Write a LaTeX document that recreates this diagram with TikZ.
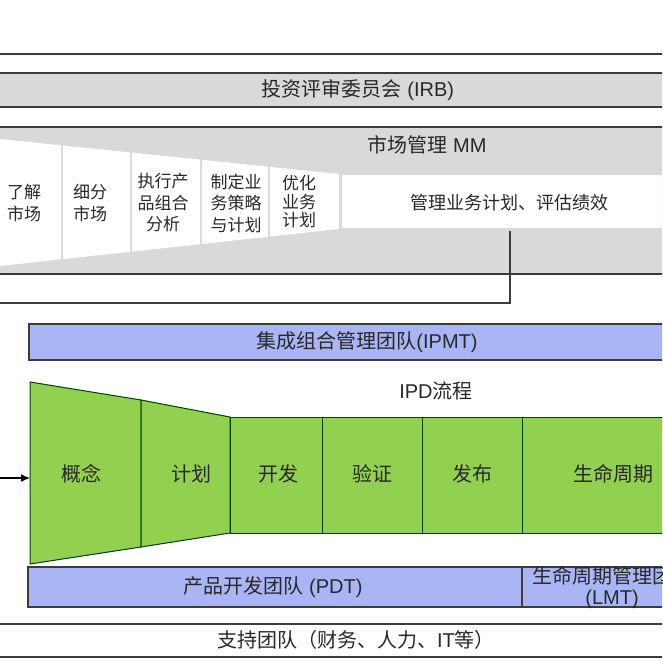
\documentclass[tikz,border=0pt]{standalone}
\usepackage{fontspec}
\setmainfont{Liberation Sans}
\newfontfamily\cjk{Noto Sans CJK SC}
\usetikzlibrary{arrows.meta}
\definecolor{bandgray}{RGB}{217,217,217}
\definecolor{ipdgreen}{RGB}{146,208,80}
\definecolor{teamblue}{RGB}{170,181,245}
\definecolor{edgec}{RGB}{60,60,60}
\definecolor{txt}{RGB}{40,40,40}
\begin{document}
\begin{tikzpicture}[x=1pt,y=-1pt,
  bandline/.style={draw=edgec,line width=1.5pt},
  whiteseg/.style={fill=white},
  greenbox/.style={fill=ipdgreen,draw=black!75!green,line width=1pt},
  bluebox/.style={fill=teamblue,draw=edgec,line width=1.3pt},
  big/.style={font=\fontsize{20}{21}\selectfont,text=txt,inner sep=0pt,align=center},
  mid/.style={font=\fontsize{18}{22}\selectfont,text=txt,inner sep=0pt},
  small/.style={font=\fontsize{17}{21.5}\cjk,text=txt,inner sep=0pt,align=center},
  tight/.style={font=\fontsize{17}{18.5}\cjk,text=txt,inner sep=0pt,align=center}
]
\useasboundingbox (0,0) rectangle (662,662);
\clip (0,0) rectangle (662,662);

% top border line
\coordinate (topl) at (-5,54);
\coordinate (topr) at (670,54);
\draw[bandline] (topl) -- (topr);

% IRB band
\fill[bandgray] (-5,73) rectangle (670,107);
\draw[bandline] (-5,73) -- (670,73);
\draw[bandline] (-5,107) -- (670,107);
\node[big] (irb) at (358,90) {{\cjk 投资评审委员会}\ (IRB)};

% MM band
\fill[bandgray] (-5,127) rectangle (670,274);
\draw[bandline] (-5,127) -- (670,127);
\draw[bandline] (-5,274) -- (670,274);
\node[big] (mm) at (427,145) {{\cjk 市场管理}\ MM};

% funnel segments
\fill[whiteseg] (-10,138.0) -- (61,145.3) -- (61,259.3) -- (-10,267.1) -- cycle;
\fill[whiteseg] (63,145.5) -- (130,152.4) -- (130,251.8) -- (63,259.1) -- cycle;
\fill[whiteseg] (132,152.6) -- (200,159.6) -- (200,244.2) -- (132,251.6) -- cycle;
\fill[whiteseg] (202,159.8) -- (268,166.7) -- (268,236.8) -- (202,244.0) -- cycle;
\fill[whiteseg] (270,166.9) -- (339,174.0) -- (339,229.0) -- (270,236.5) -- cycle;
\fill[whiteseg] (342,175) rectangle (670,228);

\node[small] (s1) at (24,203) {了解\\市场};
\node[small] (s2) at (90,203) {细分\\市场};
\node[small] (s3) at (163,203) {执行产\\品组合\\分析};
\node[small] (s4) at (236,203) {制定业\\务策略\\与计划};
\node[tight] (s5) at (299,202) {优化\\业务\\计划};
\node[mid] (s6) at (509,203) {\cjk 管理业务计划、评估绩效};

% bracket line
\coordinate (bk1) at (-5,303);
\coordinate (bk2) at (510,303);
\coordinate (bk3) at (510,231);
\draw[bandline] (bk1) -- (bk2) -- (bk3);

% IPMT
\draw[bluebox] (29,324) rectangle (670,360);
\node[big] (ipmt) at (367,342) {{\cjk 集成组合管理团队}(IPMT)};

\node[big] (ipd) at (436,391) {IPD{\cjk 流程}};

% IPD phases
\draw[greenbox] (30,382) -- (141,400) -- (141,547) -- (30,564) -- cycle;
\draw[greenbox] (141,400) -- (230,417) -- (230,533) -- (141,547) -- cycle;
\draw[greenbox] (230,417) rectangle (322,533);
\draw[greenbox] (322,417) rectangle (422,533);
\draw[greenbox] (422,417) rectangle (522,533);
\draw[greenbox] (522,417) rectangle (680,533);
\node[big] (p1) at (81,474) {\cjk 概念};
\node[big] (p2) at (191,474) {\cjk 计划};
\node[big] (p3) at (278,474) {\cjk 开发};
\node[big] (p4) at (372,474) {\cjk 验证};
\node[big] (p5) at (472,474) {\cjk 发布};
\node[big] (p6) at (613,474) {\cjk 生命周期};

% input arrow
\coordinate (arrs) at (-5,478);
\coordinate (arre) at (30,478);
\draw[-{Latex[length=9pt,width=8pt]},line width=1.3pt,black] (arrs) -- (arre);

% PDT / LMT
\draw[bluebox] (28,567) rectangle (522,607);
\draw[bluebox] (522,567) rectangle (720,607);
\node[big] (pdt) at (273,587) {{\cjk 产品开发团队}\ (PDT)};
\node[big] (lmt) at (612,588) {{\cjk 生命周期管理团队}\\(LMT)};

% support band
\draw[bandline] (-5,624) -- (670,624);
\draw[bandline] (-5,657) -- (670,657);
\node[big] (sup) at (356,640) {{\cjk 支持团队（财务、人力、}IT{\cjk 等）}};
\end{tikzpicture}
\end{document}
